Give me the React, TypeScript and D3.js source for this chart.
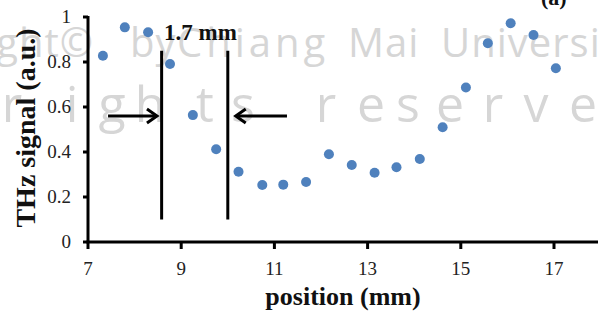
import React from "react";
import * as d3 from "d3";

// Scan position (mm) and normalised THz signal
const positions = [7.32, 7.79, 8.29, 8.76, 9.25, 9.75, 10.23, 10.74, 11.19, 11.68, 12.17, 12.66, 13.15, 13.62, 14.12, 14.61, 15.11, 15.58, 16.07, 16.56, 17.04];
const signal = [0.828, 0.954, 0.932, 0.791, 0.564, 0.412, 0.312, 0.253, 0.255, 0.267, 0.39, 0.342, 0.308, 0.332, 0.369, 0.51, 0.687, 0.883, 0.972, 0.92, 0.772];

const xTicks = [7, 9, 11, 13, 15, 17];
const yTicks = [0, 0.2, 0.4, 0.6, 0.8, 1];

// Edge markers (mm) and their vertical extent (a.u.)
const edgeMarkers = [8.58, 10.0];
const edgeSpan = [0.1, 0.85];
// Arrows: [from, to] in mm, drawn at arrowLevel
const arrows = [
  [7.43, 8.48],
  [11.27, 10.17],
];
const arrowLevel = 0.56;
const widthLabel = "1.7 mm";

const W = 598;
const H = 320;

const x = d3.scaleLinear().domain([7, 18]).range([88, 600.6]);
const y = d3.scaleLinear().domain([0, 1]).range([242, 17]);

const serif = "'Liberation Serif', 'Times New Roman', serif";
const wmFont = "'Open Sans', 'DejaVu Sans', sans-serif";
const wmColor = "#d6d6d6";

const rightsChars = "rights reserve".split("");
const rightsX = [12, 72, 112, 150, 205, 243, 0, 326, 371, 408, 450, 493, 536, 583];

export default function App() {
  const fmt = d3.format(".1~f");
  return (
    <svg
      width={W}
      height={H}
      style={{ position: "absolute", left: 0, top: 0, background: "#fff" }}
    >
      <rect width={W} height={H} fill="#fff" />
      {/* watermark */}
      <g fill={wmColor} fontFamily={wmFont}>
        <text x={94} y={57} fontSize={40} textAnchor="end" letterSpacing={1}>Copyright©</text>
        <text x={130} y={57} fontSize={40} letterSpacing={1}>by</text>
        <text x={177} y={57} fontSize={40} letterSpacing={4}>Chiang</text>
        <text x={348} y={57} fontSize={40} letterSpacing={1}>Mai</text>
        <text x={441} y={57} fontSize={40} letterSpacing={1}>University</text>
        {rightsChars.map((c, i) =>
          c === " " ? null : (
            <text key={i} x={rightsX[i]} y={122} fontSize={50} textAnchor="middle">
              {c}
            </text>
          )
        )}
      </g>

      {/* axes */}
      <g stroke="#000" strokeWidth={3}>
        <line x1={x(7)} x2={x(7)} y1={y(1) - 1} y2={y(0)} />
        <line x1={x(7) - 1.5} x2={W + 4} y1={y(0)} y2={y(0)} />
        {yTicks.map((t) => (
          <line key={t} x1={x(7) - 5} x2={x(7)} y1={y(t)} y2={y(t)} />
        ))}
        {xTicks.map((t) => (
          <line key={t} x1={x(t)} x2={x(t)} y1={y(0)} y2={y(0) + 7} />
        ))}
      </g>
      <g fontFamily={serif} fontSize={19} fill="#222">
        {yTicks.map((t) => (
          <text key={t} x={71} y={y(t) + 6} textAnchor="end">
            {fmt(t)}
          </text>
        ))}
        {xTicks.map((t) => (
          <text key={t} x={x(t)} y={275} textAnchor="middle">
            {t}
          </text>
        ))}
      </g>

      {/* axis titles */}
      <text
        x={343}
        y={305}
        textAnchor="middle"
        fontFamily={serif}
        fontWeight="bold"
        fontSize={26}
        fill="#111"
      >
        position (mm)
      </text>
      <text
        transform={`translate(35, 128) rotate(-90)`}
        textAnchor="middle"
        fontFamily={serif}
        fontWeight="bold"
        fontSize={28}
        fill="#111"
      >
        THz signal (a.u.)
      </text>
      <text x={541} y={5} fontFamily={serif} fontWeight="bold" fontSize={22} fill="#111">
        (a)
      </text>

      {/* data points */}
      <g fill="#4f81bd">
        {positions.map((p, i) => (
          <circle key={i} cx={x(p)} cy={y(signal[i])} r={5} />
        ))}
      </g>

      {/* edge markers and arrows */}
      <g stroke="#000" strokeWidth={3} fill="none">
        {edgeMarkers.map((m) => (
          <line key={m} x1={x(m)} x2={x(m)} y1={y(edgeSpan[0])} y2={y(edgeSpan[1])} />
        ))}
        {arrows.map(([a, b], i) => {
          const dir = Math.sign(x(b) - x(a));
          const tip = x(b);
          const ay = y(arrowLevel);
          return (
            <g key={i}>
              <line x1={x(a)} x2={tip - dir * 1} y1={ay} y2={ay} />
              <polyline
                points={`${tip - dir * 10},${ay - 7} ${tip},${ay} ${tip - dir * 10},${ay + 7}`}
                strokeLinejoin="miter"
              />
            </g>
          );
        })}
      </g>
      <text
        x={164}
        y={40}
        fontFamily={serif}
        fontWeight="bold"
        fontSize={23}
        fill="#111"
      >
        {widthLabel}
      </text>
    </svg>
  );
}
